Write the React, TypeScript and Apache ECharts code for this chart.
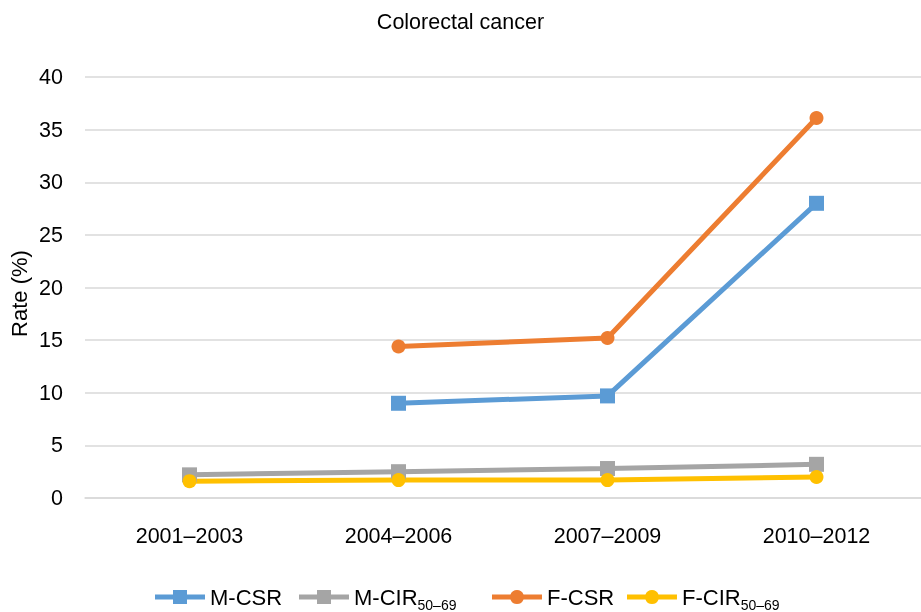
import React, { useEffect, useRef } from "react";
import * as echarts from "echarts";

const periods = ["2001–2003", "2004–2006", "2007–2009", "2010–2012"];
const maleCSR = [null, 9.0, 9.7, 28.0];
const maleCIR = [2.2, 2.5, 2.8, 3.2];
const femaleCSR = [null, 14.4, 15.2, 36.1];
const femaleCIR = [1.6, 1.7, 1.7, 2.0];
const yTicks = { min: 0, max: 40, interval: 5 };

const FONT = "Liberation Sans, Arial, sans-serif";
const FS = 21.5;

// legend icons: thick line with a square / round marker in the middle
const ICON_SQUARE =
  "path://M0,4.5 L18,4.5 L18,0 L32,0 L32,4.5 L50,4.5 L50,9.5 L32,9.5 L32,14 L18,14 L18,9.5 L0,9.5 Z";
const ICON_CIRCLE =
  "path://M0,4.5 L18.46,4.5 A7,7 0 0 1 31.54,4.5 L50,4.5 L50,9.5 L31.54,9.5 A7,7 0 0 1 18.46,9.5 L0,9.5 Z";

export default function App() {
  const ref = useRef<HTMLDivElement>(null);

  useEffect(() => {
    if (!ref.current) return;
    const chart = echarts.init(ref.current, undefined, { renderer: "svg" });

    const mk = (
      name: string,
      data: (number | null)[],
      color: string,
      symbol: string,
      symbolSize: number
    ) => ({
      name,
      type: "line",
      data,
      symbol,
      symbolSize,
      showSymbol: true,
      lineStyle: { color, width: 5 },
      itemStyle: { color },
      z: 3,
    });

    const legendText = {
      fontFamily: FONT,
      fontSize: 22,
      color: "#000",
      rich: {
        a: { fontFamily: FONT, fontSize: 22, color: "#000", lineHeight: 22, verticalAlign: "top", padding: [0, 0, 8, 0] },
        s: { fontFamily: FONT, fontSize: 14, color: "#000", lineHeight: 22, verticalAlign: "top", padding: [11.5, 0, 0, 0] },
      },
    };
    const legendFmt = (n: string) => {
      const m = n.match(/^(.*)_(.*)$/);
      return m ? `{a|${m[1]}}{s|${m[2]}}` : `{a|${n}}`;
    };
    const legendItem = (name: string, icon: string, left: number) => ({
      top: 581,
      left,
      itemWidth: 50,
      itemHeight: 14,
      textStyle: legendText,
      formatter: legendFmt,
      data: [{ name, icon }],
    });

    chart.setOption({
      animation: false,
      textStyle: { fontFamily: FONT },
      title: {
        text: "Colorectal cancer",
        left: "center",
        top: 6,
        textStyle: { fontFamily: FONT, fontSize: FS, fontWeight: "normal", color: "#000" },
      },
      grid: { left: 85, top: 77, width: 848, height: 421, containLabel: false },
      legend: [
        legendItem("M-CSR", ICON_SQUARE, 150),
        legendItem("M-CIR_50–69", ICON_SQUARE, 294),
        legendItem("F-CSR", ICON_CIRCLE, 487),
        legendItem("F-CIR_50–69", ICON_CIRCLE, 622),
      ],
      graphic: [
        {
          type: "text",
          x: 19,
          y: 293.5,
          rotation: Math.PI / 2,
          style: {
            text: "Rate (%)",
            fontFamily: FONT,
            fontSize: 22,
            fill: "#000",
            align: "center",
            verticalAlign: "middle",
          },
        },
      ],
      xAxis: {
        type: "category",
        data: periods,
        boundaryGap: true,
        axisLine: { show: true, lineStyle: { color: "#d9d9d9", width: 1.5 } },
        axisTick: { show: false },
        axisLabel: { fontFamily: FONT, fontSize: FS, color: "#000", margin: 27 },
      },
      yAxis: {
        type: "value",
        min: yTicks.min,
        max: yTicks.max,
        interval: yTicks.interval,
        axisLine: { show: false },
        axisTick: { show: false },
        axisLabel: { fontFamily: FONT, fontSize: FS, color: "#000", margin: 22 },
        splitLine: { lineStyle: { color: "#d9d9d9", width: 1.5 } },
      },
      series: [
        mk("M-CSR", maleCSR, "#5b9bd5", "rect", 15),
        mk("M-CIR_50–69", maleCIR, "#a5a5a5", "rect", 15),
        mk("F-CSR", femaleCSR, "#ed7d31", "circle", 14),
        mk("F-CIR_50–69", femaleCIR, "#ffc000", "circle", 14),
      ],
    });

    return () => chart.dispose();
  }, []);

  return (
    <div
      ref={ref}
      style={{ position: "fixed", left: 0, top: 0, width: 921, height: 612 }}
    />
  );
}
